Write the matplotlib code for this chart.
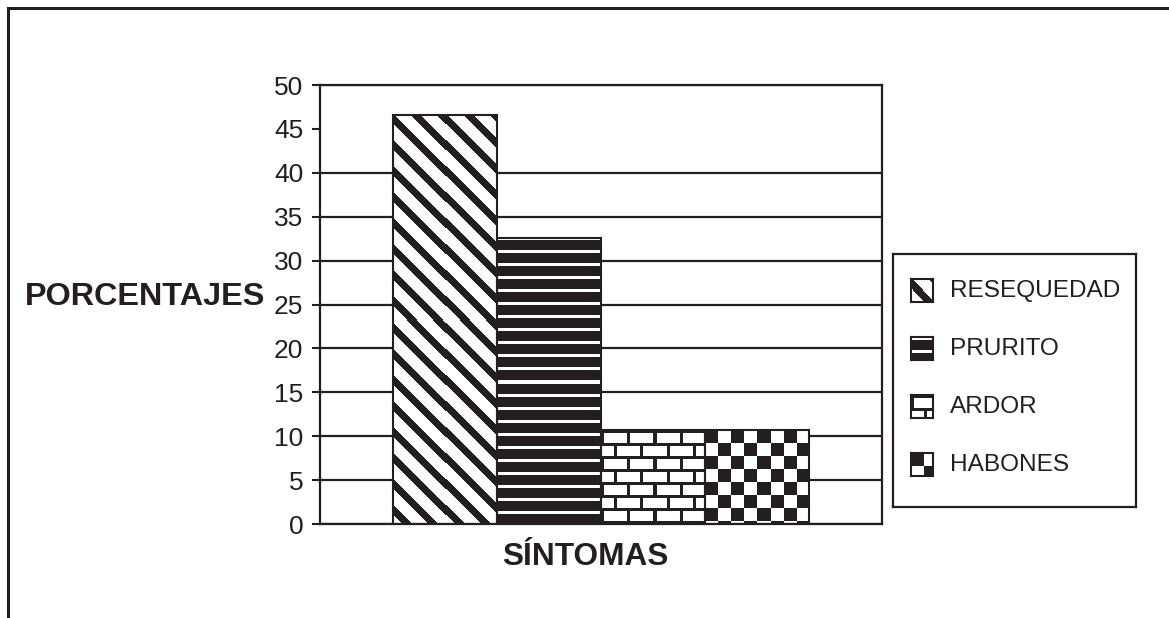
import numpy as np
import matplotlib
matplotlib.use("Agg")
import matplotlib.pyplot as plt
from matplotlib.colors import ListedColormap
from matplotlib.lines import Line2D

# Datos
sintomas = ['RESEQUEDAD', 'PRURITO', 'ARDOR', 'HABONES']
porcentajes = [46.6, 32.6, 10.7, 10.7]
yticks = [0, 5, 10, 15, 20, 25, 30, 35, 40, 45, 50]

INK = '#231f20'
W, H = 1169, 618
plt.rcParams['font.family'] = ['Liberation Sans', 'DejaVu Sans']

cmap = ListedColormap([INK, 'white'])


# patrones de relleno (0 = negro, 1 = blanco), en pixeles
def pat_diagonal(h, w):
    i, j = np.mgrid[0:h, 0:w]
    return np.where(((i - j) % 26) < 10, 0, 1)


def pat_horizontal(h, w):
    i, j = np.mgrid[0:h, 0:w]
    return np.where((i % 13) < 3, 1, 0)


def pat_ladrillo(h, w):
    i, j = np.mgrid[0:h, 0:w]
    fila = i // 13
    mortero = ((i % 13) < 3) | (((j + (fila % 2) * 13) % 26) < 3)
    return np.where(mortero, 0, 1)


def pat_damero(h, w):
    i, j = np.mgrid[0:h, 0:w]
    return np.where(((i // 13) + (j // 13)) % 2 == 0, 0, 1)


patrones = [pat_diagonal, pat_horizontal, pat_ladrillo, pat_damero]


def fx(px):
    return px / W


def fy(py):
    return 1 - py / H


fig = plt.figure(figsize=(W / 100, H / 100), dpi=100)
ax = fig.add_axes([fx(320), fy(524), fx(882 - 320), (524 - 85) / H])

x = np.arange(len(sintomas))
bars = ax.bar(x, porcentajes, width=1.0, facecolor='none', edgecolor=INK,
              linewidth=1.5, zorder=3)

ax.set_xlim(-1.2, 4.2)
ax.set_ylim(0, 50)
ax.set_yticks(yticks)
ax.set_yticklabels([str(t) for t in yticks], fontsize=19, color=INK)
ax.set_xticks([])
ax.tick_params(axis='y', direction='out', length=6, width=1.5, color=INK, pad=6)
for s in ax.spines.values():
    s.set_color(INK)
    s.set_linewidth(1.6)

ax.set_axisbelow(True)
ax.yaxis.grid(True, color=INK, linewidth=1.6)
# en el original no aparece la línea de 45
for t, gl in zip(yticks, ax.get_ygridlines()):
    if t == 45:
        gl.set_visible(False)

# rellenar cada barra con su patrón
fig.canvas.draw()
for bar, pat in zip(bars, patrones):
    bb = bar.get_window_extent()
    h, w = int(round(bb.height)), int(round(bb.width))
    x0 = bar.get_x()
    im = ax.imshow(pat(h, w), cmap=cmap, vmin=0, vmax=1, interpolation='nearest',
                   extent=(x0, x0 + bar.get_width(), 0, bar.get_height()),
                   origin='upper', aspect='auto', zorder=2)
    im.set_clip_path(bar)
ax.set_xlim(-1.2, 4.2)
ax.set_ylim(0, 50)

# rótulos
fig.text(fx(25), fy(297), 'PORCENTAJES', fontsize=23.3, fontweight='bold',
         color=INK, ha='left', va='center')
fig.text(fx(585), fy(557), 'SÍNTOMAS', fontsize=22.8, fontweight='bold',
         color=INK, ha='center', va='center')

# leyenda manual
leg = fig.add_axes([fx(893), fy(507), fx(1136 - 893), (507 - 254) / H])
leg.set_xticks([])
leg.set_yticks([])
for s in leg.spines.values():
    s.set_color(INK)
    s.set_linewidth(1.6)

centros = [291, 349, 407, 465]
for nombre, pat, cy in zip(sintomas, patrones, centros):
    sw = fig.add_axes([fx(911), fy(cy + 11), fx(22), 23 / H])
    sw.imshow(pat(23, 22), cmap=cmap, vmin=0, vmax=1, interpolation='nearest',
              aspect='auto')
    sw.set_xticks([])
    sw.set_yticks([])
    for s in sw.spines.values():
        s.set_color(INK)
        s.set_linewidth(1.5)
    fig.text(fx(950), fy(cy), nombre, fontsize=17.6, color=INK,
             ha='left', va='center')

# marco exterior
fig.add_artist(Line2D([fx(8), 1], [fy(8), fy(8)], color=INK, linewidth=2.2))
fig.add_artist(Line2D([fx(8), fx(8)], [fy(8), 0], color=INK, linewidth=2.2))

fig.savefig('out.png', dpi=100)
